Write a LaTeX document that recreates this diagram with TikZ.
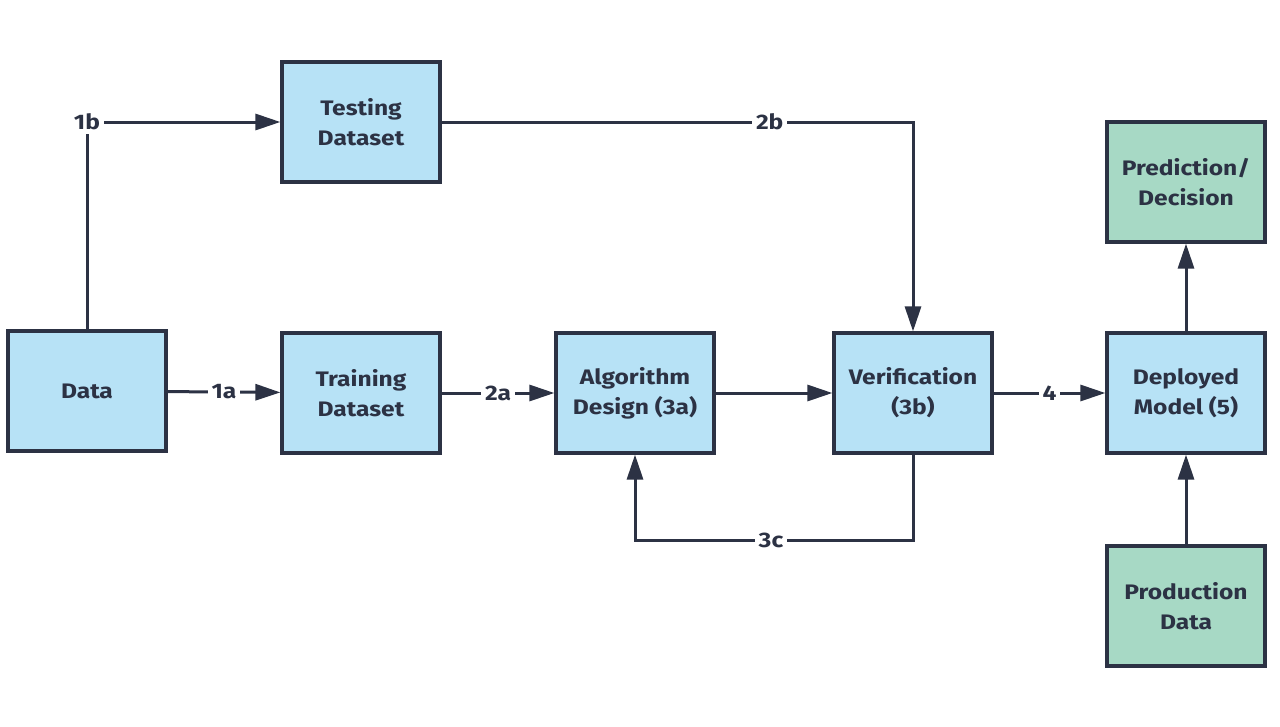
\documentclass[tikz,border=0pt]{standalone}
\usepackage{fontspec}
\setmainfont[FakeStretch=1.17]{Fira Sans}
\usetikzlibrary{arrows.meta}
\definecolor{boxblue}{HTML}{B7E2F6}
\definecolor{boxgreen}{HTML}{A7D9C5}
\definecolor{linec}{HTML}{2C3244}
\begin{document}
\begin{tikzpicture}[x=1pt,y=-1pt,
  box/.style={draw=linec, line width=3.2pt, minimum width=158pt, minimum height=120pt,
    align=center, text=linec, font=\fontsize{21}{30}\selectfont\bfseries, inner sep=0pt},
  bluebox/.style={box, fill=boxblue},
  greenbox/.style={box, fill=boxgreen},
  conn/.style={draw=linec, line width=3pt, -{Triangle[length=25pt,width=16pt]}},
  lbl/.style={fill=white, text=linec, font=\fontsize{21}{26}\selectfont\bfseries, inner sep=4pt}]
\useasboundingbox[fill=white] (0,0) rectangle (1280,726);
\node[bluebox] (data) at (87,391) {Data};
\node[bluebox] (train) at (361,393) {Training\\Dataset};
\node[bluebox] (test) at (361,122) {Testing\\Dataset};
\node[bluebox] (algo) at (635,393) {Algorithm\\Design (3a)};
\node[bluebox] (verif) at (913,393) {Verification\\(3b)};
\node[bluebox] (deploy) at (1186,393) {Deployed\\Model (5)};
\node[greenbox] (pred) at (1186,182) {Prediction/\\Decision};
\node[greenbox] (prod) at (1186,606) {Production\\Data};
\coordinate (b3) at (771,540);
\draw[conn] (data.north) |- node[lbl,pos=0.5]{1b} (test.west);
\draw[conn] (test.east) -| node[lbl,pos=0.348]{2b} (verif.north);
\draw[conn] (data) -- node[lbl]{1a} (train);
\draw[conn] (train) -- node[lbl]{2a} (algo);
\draw[conn] (algo) -- (verif);
\draw[conn] (verif) -- node[lbl]{4} (deploy);
\draw[conn] (verif.south) |- (b3) -| (algo.south);
\node[lbl] at (b3) {3c};
\draw[conn] (prod) -- (deploy);
\draw[conn] (deploy) -- (pred);
\end{tikzpicture}
\end{document}
